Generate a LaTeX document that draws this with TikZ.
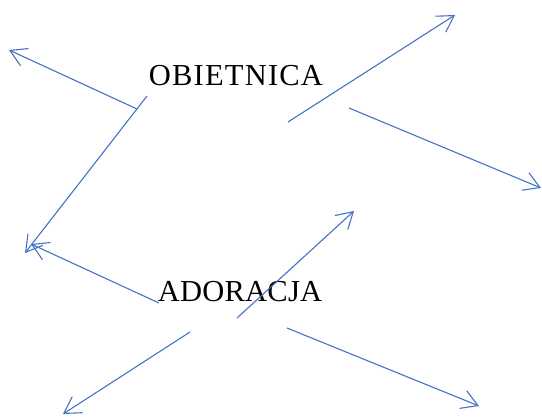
\documentclass[tikz,border=0pt]{standalone}
\usepackage{fontspec}
\setmainfont{Liberation Serif}
\usetikzlibrary{arrows.meta}
\definecolor{arrblue}{HTML}{4472C4}
\tikzset{
  conn/.style={draw=arrblue, line width=1.1pt, -{Straight Barb[length=16pt,width=19pt]}},
  word/.style={inner sep=0pt, font=\fontsize{30.5}{34}\selectfont, text=black}
}
\begin{document}
\begin{tikzpicture}[x=1pt,y=-1pt]
\useasboundingbox (0,0) rectangle (542,418);
\node[word, anchor=base] (obietnica) at (236,85) {\addfontfeature{LetterSpace=4}OBIETNICA};
\node[word, anchor=base] (adoracja) at (240,301) {\addfontfeature{LetterSpace=0.8}ADORACJA};
% arrow ends
\coordinate (a1s) at (137,109); \coordinate (a1e) at (9,50);
\coordinate (a2s) at (147,96);  \coordinate (a2e) at (25,253);
\coordinate (a3s) at (288,122); \coordinate (a3e) at (455,15);
\coordinate (a4s) at (349,108); \coordinate (a4e) at (541,188);
\coordinate (a5s) at (159,303); \coordinate (a5e) at (31,244);
\coordinate (a6s) at (237,318); \coordinate (a6e) at (354,211);
\coordinate (a7s) at (190,332); \coordinate (a7e) at (63,414);
\coordinate (a8s) at (287,328); \coordinate (a8e) at (479,406);
\draw[conn] (a1s) -- (a1e);
\draw[conn] (a2s) -- (a2e);
\draw[conn] (a3s) -- (a3e);
\draw[conn] (a4s) -- (a4e);
\draw[conn] (a5s) -- (a5e);
\draw[conn] (a6s) -- (a6e);
\draw[conn] (a7s) -- (a7e);
\draw[conn] (a8s) -- (a8e);
\end{tikzpicture}
\end{document}
